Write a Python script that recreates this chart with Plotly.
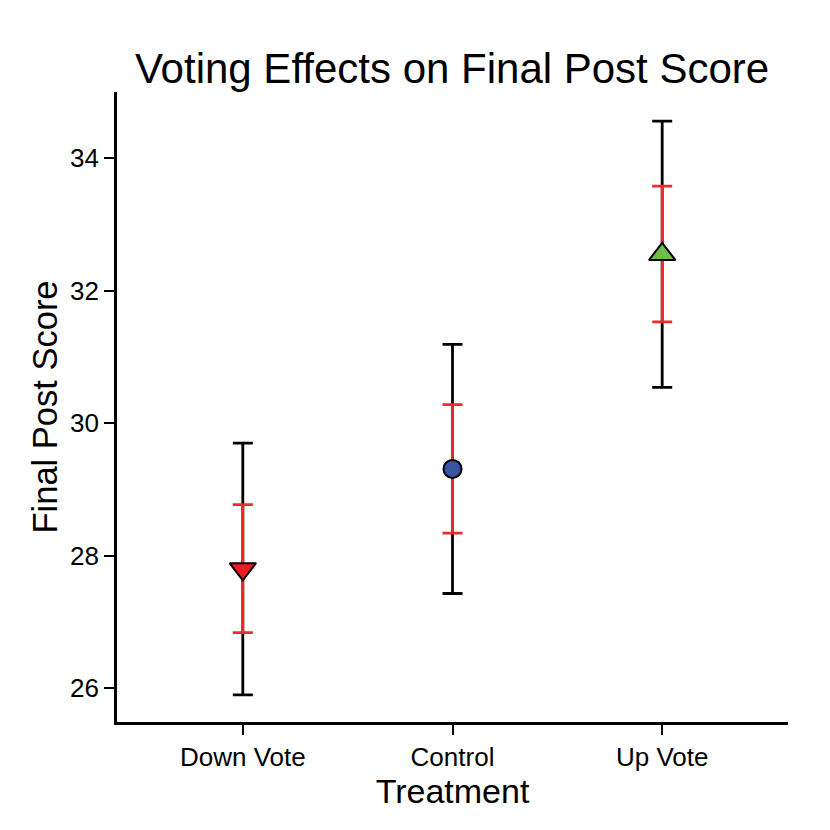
import plotly.graph_objects as go

# values
treatments = ['Down Vote', 'Control', 'Up Vote']
means = [27.80, 29.31, 32.55]
ci_low = [25.90, 27.43, 30.54]
ci_high = [29.70, 31.19, 34.56]
se_low = [26.84, 28.34, 31.53]
se_high = [28.77, 30.28, 33.58]

marker_symbols = ['triangle-down', 'circle', 'triangle-up']
marker_colors = ['#ED1C24', '#3953A4', '#6DBE45']
marker_sizes = [23, 18, 23]

FONT = 'Liberation Sans, Arial, Helvetica, sans-serif'

fig = go.Figure()

# outer (black) interval
fig.add_trace(go.Scatter(
    x=treatments, y=means, mode='markers',
    marker=dict(size=1, color='rgba(0,0,0,0)'),
    error_y=dict(type='data', symmetric=False,
                 array=[h - m for h, m in zip(ci_high, means)],
                 arrayminus=[m - l for m, l in zip(means, ci_low)],
                 color='black', thickness=2.8, width=10),
    hoverinfo='skip', showlegend=False,
))

# inner (red) interval
fig.add_trace(go.Scatter(
    x=treatments, y=means, mode='markers',
    marker=dict(size=1, color='rgba(0,0,0,0)'),
    error_y=dict(type='data', symmetric=False,
                 array=[h - m for h, m in zip(se_high, means)],
                 arrayminus=[m - l for m, l in zip(means, se_low)],
                 color='#EE2A2F', thickness=2.8, width=10),
    hoverinfo='skip', showlegend=False,
))

# mean markers on top
fig.add_trace(go.Scatter(
    x=treatments, y=means, mode='markers',
    marker=dict(symbol=marker_symbols, size=marker_sizes, color=marker_colors,
                opacity=1, line=dict(color='black', width=2)),
    showlegend=False,
))

fig.update_layout(
    width=830, height=830,
    paper_bgcolor='white', plot_bgcolor='white',
    margin=dict(l=109, r=50, t=84, b=116),
    font=dict(family=FONT, color='black'),
    title=dict(text='Voting Effects on Final Post Score', x=0.535, xanchor='center',
               y=1 - 60 / 830, yref='container', yanchor='middle',
               font=dict(size=42, color='black')),
)

fig.update_xaxes(
    range=[-0.6, 2.6], showgrid=False, zeroline=False,
    showline=True, linecolor='black', linewidth=2.6,
    ticks='outside', ticklen=10, tickwidth=2.4, tickcolor='black',
    tickfont=dict(size=26),
    title=dict(text='Treatment', font=dict(size=34), standoff=0),
)
fig.update_yaxes(
    range=[25.49, 35.0], showgrid=False, zeroline=False,
    showline=True, linecolor='black', linewidth=2.6,
    ticks='outside', ticklen=10, tickwidth=2.4, tickcolor='black',
    tickvals=[26, 28, 30, 32, 34], tickfont=dict(size=26),
    title=dict(text='Final Post Score', font=dict(size=34.5), standoff=3),
)

fig.write_html('out.html')
